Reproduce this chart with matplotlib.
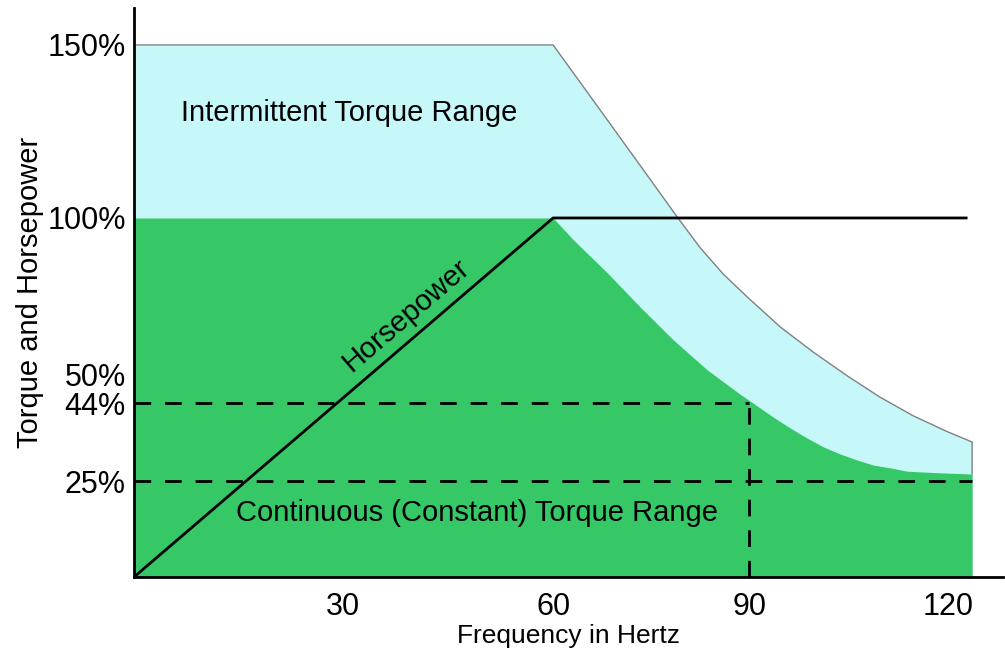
import matplotlib
matplotlib.use("Agg")
import numpy as np
import matplotlib.pyplot as plt
from matplotlib.ticker import FixedLocator, FixedFormatter
from matplotlib.transforms import ScaledTranslation

# intermittent (overload) torque limit, % of rated, against frequency in Hz
freq_inter = [0, 60, 67.2, 74.8, 79.1, 82.5, 86.0, 89.7, 94.7, 99.6, 104.8, 109.7, 114.7, 119.9, 123.6]
torque_inter = [150, 150, 131.2, 111.3, 100, 91.0, 83.1, 76.1, 67.0, 59.5, 52.2, 45.8, 40.9, 37.0, 34.5]

# continuous torque limit
freq_cont = [0, 60, 63.1, 68.3, 73.3, 78.4, 83.6, 88.6, 91.2, 93.6, 96.2, 98.7, 101.2,
             103.7, 106.3, 108.7, 111.3, 113.8, 116.2, 118.8, 123.6]
torque_cont = [100, 100, 93.4, 83.4, 73.1, 63.1, 54.0, 46.7, 43.3, 40.6, 37.9, 35.5, 33.3,
               31.6, 30.1, 28.9, 28.2, 27.4, 27.2, 27.0, 26.7]

# horsepower rises linearly to base speed, then stays flat
freq_hp = [0, 60, 122.7]
hp = [0, 100, 100]

# reference levels
ref_freq = 90
ref_torque = 44
low_torque = 25
freq_end = 123.6

x_ticks = [30, 60, 90, 120]
y_ticks = [25, 44, 50, 100, 150]
y_labels = ["25%", "44%", "50%", "100%", "150%"]

# the chart is schematic: axis spacing is piecewise linear between these knots
x_knots = [0, 30, 60, 90, 120, 150]
x_space = [0, 209, 419, 615, 814, 1013]
y_knots = [0, 25, 44, 100, 150, 200]
y_space = [0, 96, 174, 359, 532, 705]


def scale_funcs(knots, space):
    fwd = lambda v: np.interp(v, knots, space)
    inv = lambda s: np.interp(s, space, knots)
    return fwd, inv


plt.rcParams["font.family"] = ["Liberation Sans", "DejaVu Sans"]

fig = plt.figure(figsize=(10.05, 6.58), dpi=100)
ax = fig.add_axes([0.1333, 0.123, 0.865, 0.865])
ax.set_xscale("function", functions=scale_funcs(x_knots, x_space))
ax.set_yscale("function", functions=scale_funcs(y_knots, y_space))

light = "#c6f8f9"
green = "#36c866"

# shaded regions
ax.fill_between(freq_inter, 0, torque_inter, color=light, lw=0, zorder=1)
ax.fill_between(freq_cont, 0, torque_cont, color=green, lw=0, zorder=2)
ax.fill_between([0, freq_end], 0, [low_torque, low_torque], color=green, lw=0, zorder=2)

# thin outline of the intermittent region
ax.plot(freq_inter + [freq_end], torque_inter + [torque_cont[-1]], color="#808080", lw=1, zorder=3)

# horsepower curve
ax.plot(freq_hp, hp, color="black", lw=2, zorder=4)

# dashed reference lines
dash = dict(color="black", lw=2, dashes=(6, 5), zorder=4)
ax.plot([0, ref_freq], [ref_torque, ref_torque], **dash)
ax.plot([ref_freq, ref_freq], [0, ref_torque], **dash)
ax.plot([0, freq_end], [low_torque, low_torque], **dash)

# region labels
ax.text(30.9, 130.3, "Intermittent Torque Range", fontsize=21, ha="center", va="center", zorder=5)
ax.text(49.2, 16.7, "Continuous (Constant) Torque Range", fontsize=21, ha="center", va="center", zorder=5)
ax.text(39.0, 70.5, "Horsepower", fontsize=21, ha="center", va="center", zorder=5,
        rotation=40.6, rotation_mode="anchor")

ax.set_xlim(0, 128.3)
ax.set_ylim(0, 160.7)

ax.xaxis.set_major_locator(FixedLocator(x_ticks))
ax.xaxis.set_major_formatter(FixedFormatter([str(t) for t in x_ticks]))
ax.xaxis.set_minor_locator(FixedLocator([]))
ax.yaxis.set_major_locator(FixedLocator(y_ticks))
ax.yaxis.set_major_formatter(FixedFormatter(y_labels))
ax.yaxis.set_minor_locator(FixedLocator([]))
ax.tick_params(length=0, labelsize=22)
ax.tick_params(axis="x", pad=11)
ax.tick_params(axis="y", pad=6)

for side in ("top", "right"):
    ax.spines[side].set_visible(False)
for side in ("left", "bottom"):
    ax.spines[side].set_linewidth(2)
    ax.spines[side].set_zorder(6)

ax.set_xlabel("Frequency in Hertz", fontsize=19, labelpad=1)
ax.set_ylabel("Torque and Horsepower", fontsize=21, labelpad=2)

# lift the 50% label a little so it clears the 44% label
fig.canvas.draw()
for tick in ax.yaxis.get_major_ticks():
    if tick.get_loc() == 50:
        tick.label1.set_transform(tick.label1.get_transform() +
                                  ScaledTranslation(0, 6 / 72, fig.dpi_scale_trans))

fig.savefig("out.png", dpi=100)
